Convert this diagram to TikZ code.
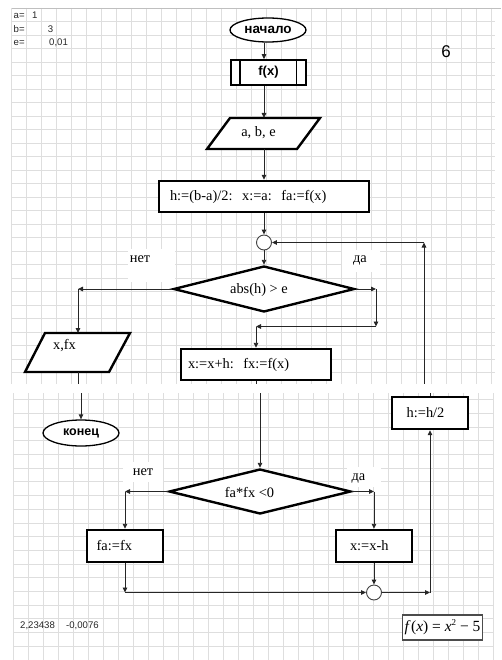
\documentclass[tikz,border=0pt]{standalone}
\usepackage{fontspec}
\setmainfont{Liberation Serif}
\newfontfamily\arialf{Liberation Sans}
\usetikzlibrary{shapes.geometric,arrows.meta}
\newcommand\boxfont{\fontsize{14.4}{17}\selectfont}
\begin{document}
\begin{tikzpicture}[x=1pt,y=-1pt,
  gridc/.style={draw=black!13, line width=0.8pt},
  conn/.style={draw=black!85, line width=0.9pt, -{Triangle[length=5pt,width=4.5pt]}},
  proc/.style={draw, line width=2.4pt, fill=white, minimum height=31pt, inner ysep=0pt, align=left, font=\boxfont},
  term/.style={ellipse, draw, line width=1.3pt, fill=white, inner sep=0pt},
  decis/.style={diamond, aspect=4, draw, line width=2.4pt, fill=white, inner sep=0pt, minimum width=181pt, minimum height=46pt},
  jn/.style={circle, draw=black!75, line width=0.9pt, fill=white, inner sep=0pt, minimum size=15pt},
  lbl/.style={font=\boxfont, inner sep=0pt},
  cell/.style={font=\arialf\fontsize{9.6}{11}\selectfont, text=black!85, inner sep=0pt, anchor=base west},
  para/.style={draw, line width=2.4pt, fill=white, line join=miter}
]
\useasboundingbox (0,0) rectangle (501,660);
% ---- grid, upper sheet
\foreach \i in {0,...,32} \draw[gridc] (11.7+15*\i,8) -- (11.7+15*\i,383.5);
\foreach \j in {1,...,27} \draw[gridc] (11.7,8+13.5*\j) -- (495,8+13.5*\j);
\draw[draw=black!25, line width=0.8pt] (11.7,8) -- (501,8);
% ---- grid, lower sheet
\foreach \i in {0,...,32} \draw[gridc] (13.3+15*\i,393) -- (13.3+15*\i,660);
\foreach \j in {0,...,19} \draw[gridc] (13.3,399.6+13.7*\j) -- (493.3,399.6+13.7*\j);
% ---- white label backgrounds
\fill[white] (128,249) rectangle (175,282);
\fill[white] (342,250) rectangle (380,272);
\fill[white] (123,462) rectangle (163,482);
\fill[white] (347,467) rectangle (381,487);
% ---- sheet cells
\node[cell] (ca) at (13.5,18.5) {a=};
\node[cell] (va) at (32,18.5) {1};
\node[cell] (cb) at (13.5,32.3) {b=};
\node[cell] (vb) at (47.7,32.3) {3};
\node[cell] (ce) at (13.5,46) {e=};
\node[cell] (ve) at (49,46) {0,01};
\node[cell] (r1) at (20,628.5) {2,23438};
\node[cell] (r2) at (66,628.5) {-0,0076};
\node[font=\arialf\fontsize{17}{20}\selectfont, inner sep=0pt] (six) at (446,51.2) {6};
% ---- nodes
\node[term, minimum width=76pt, minimum height=24pt, font=\arialf\bfseries\fontsize{13.5}{16}\selectfont] (start) at (268,30) {начало};
\node[draw, line width=1.6pt, fill=white, minimum width=75pt, minimum height=25pt, inner sep=0pt, font=\arialf\bfseries\fontsize{13}{15}\selectfont] (fx) at (268.5,72.5) {f(x)};
\draw[line width=1.6pt] ([xshift=9.7pt]fx.north west) -- ([xshift=9.7pt]fx.south west);
\draw[line width=1.6pt] ([xshift=-10.3pt]fx.north east) -- ([xshift=-10.3pt]fx.south east);
\draw[para] (230,118) -- (320,118) -- (297,149) -- (207,149) -- cycle;
\node[lbl] (abe) at (258.5,132.5) {a, b, e};
\node[proc, text width=188pt, inner xsep=11pt] (init) at (264,196.5) {h:=(b-a)/2:\ \ x:=a:\ \ fa:=f(x)};
\node[jn] (c1) at (264,242.5) {};
\node[decis] (d1) at (264,289) {};
\node[lbl] (d1t) at (259,290) {abs(h) > e};
\draw[para] (45,333) -- (130,333) -- (109,372) -- (25,372) -- cycle;
\node[lbl] (xfx) at (64.5,345.5) {x,fx};
\node[proc, text width=136pt, inner xsep=7pt] (step) at (256,364.5) {x:=x+h:\ \ fx:=f(x)};
\node[term, minimum width=76pt, minimum height=26pt, font=\arialf\bfseries\fontsize{12.5}{15}\selectfont] (konec) at (81,433) {конец};
\node[proc, minimum height=32pt, text width=46.6pt, inner xsep=14.7pt] (hh) at (430,413) {h:=h/2};
\node[decis, minimum width=182pt, minimum height=45pt] (d2) at (260,491.5) {};
\node[lbl] (d2t) at (249.5,492) {fa*fx <0};
\node[proc, minimum height=32pt, text width=56.6pt, inner xsep=9.7pt] (fa) at (125,546) {fa:=fx};
\node[proc, minimum height=32pt, text width=48pt, inner xsep=14pt] (xmh) at (374,546) {x:=x-h};
\node[jn] (c2) at (374,592.5) {};
\node[draw=black!70, line width=1.1pt, fill=white, minimum width=79.6pt, minimum height=25pt, inner sep=0pt, font=\fontsize{15.5}{18}\selectfont] (fbox) at (442.5,627.5) {\textit{f}\kern0.5pt(\textit{x}) = \textit{x}\raisebox{6pt}{\fontsize{9}{9}\selectfont 2} − 5};
% ---- branch labels
\node[lbl] (no1) at (140,259) {нет};
\node[lbl] (yes1) at (360,261) {да};
\node[lbl] (no2) at (143,472.5) {нет};
\node[lbl] (yes2) at (358.5,479) {да};
% ---- connector points
\coordinate (abeT) at (264,118);
\coordinate (abeB) at (264,149);
\coordinate (xfxT) at (78,333);
\coordinate (xfxB) at (78,372);
\coordinate (L1) at (78,289);
\coordinate (R1) at (376,289);
\coordinate (R2) at (376,326.5);
\coordinate (R3) at (256,326.5);
\coordinate (G1) at (78,388);
\coordinate (G2) at (256,388);
\coordinate (G3) at (430,388);
\coordinate (T1) at (424,242.5);
\coordinate (L2) at (125,491.5);
\coordinate (R4) at (374,491.5);
\coordinate (B1) at (125,592.5);
\coordinate (B2) at (430,592.5);
% ---- connectors
\draw[conn] (start.south -| abeT) -- (fx.north -| abeT);
\draw[conn] (fx.south -| abeT) -- (abeT);
\draw[conn] (abeB) -- (init.north);
\draw[conn] (init.south) -- (c1.north);
\draw[conn] (c1.south) -- (d1.north);
\draw[conn] (d1.west) -- (L1);
\draw[conn] (L1) -- (xfxT);
\draw[conn] (d1.east) -- (R1);
\draw[conn] (R1) -- (R2);
\draw[conn] (R2) -- (R3);
\draw[conn] (R3) -- (step.north);
\draw[conn] (xfxB) -- (G1) -| (konec.north);
\draw[conn] (step.south) -- (G2) -| (d2.north);
\draw[conn] (d2.west) -- (L2);
\draw[conn] (L2) -- (fa.north);
\draw[conn] (d2.east) -- (R4);
\draw[conn] (R4) -- (xmh.north);
\draw[conn] (fa.south) -- (B1);
\draw[conn] (B1) -- (c2.west);
\draw[conn] (xmh.south) -- (c2.north);
\draw[conn] (c2.east) -- (B2);
\draw[conn] (B2) -- (hh.south);
\draw[conn] (hh.north) -- (G3) -| (T1);
\draw[conn] (T1) -- (c1.east);
% ---- gap between the two sheets
\fill[white] (0,383.6) rectangle (501,392.8);
\end{tikzpicture}
\end{document}
